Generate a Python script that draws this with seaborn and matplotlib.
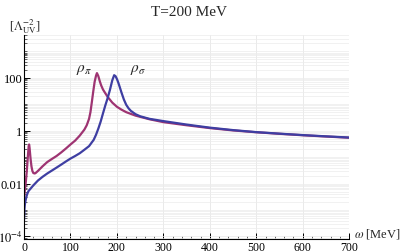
import pandas as pd
import matplotlib
matplotlib.use("Agg")
import matplotlib.pyplot as plt
import seaborn as sns
from matplotlib.ticker import LogLocator, MultipleLocator, NullFormatter

sns.set_theme(style="white")
plt.rcParams.update({
    "font.family": ["Liberation Serif", "DejaVu Serif"],
    "mathtext.fontset": "stix",
    "font.size": 9,
    "axes.linewidth": 0.8,
})

# spectral functions at T = 200 MeV
omega_pi = [0, 2, 4, 6, 8, 10, 11, 12, 14, 16, 18, 20, 23, 25, 30, 40, 50, 60, 70, 80,
            90, 100, 110, 120, 130, 135, 140, 143, 146, 149, 152, 155, 157, 160, 163,
            166, 170, 175, 180, 190, 200, 210, 220, 240, 270, 300, 350, 400, 450, 500,
            550, 600, 650, 700]
rho_pi = [0.0025, 0.006, 0.012, 0.03, 0.09, 0.26, 0.3, 0.22, 0.09, 0.045, 0.03, 0.025,
          0.024, 0.025, 0.03, 0.045, 0.065, 0.085, 0.11, 0.15, 0.21, 0.3, 0.42, 0.65,
          1.1, 1.6, 2.8, 5.0, 12, 30, 70, 120, 150, 115, 75, 52, 36, 26, 19, 11.5, 8,
          6.2, 5.0, 3.7, 2.7, 2.1, 1.6, 1.25, 1.02, 0.87, 0.76, 0.67, 0.6, 0.54]

omega_sigma = [0, 1, 2, 4, 6, 8, 10, 15, 20, 30, 40, 50, 60, 70, 80, 90, 100, 110, 120,
               130, 140, 150, 155, 160, 165, 170, 175, 180, 185, 190, 194, 197, 200, 203,
               206, 210, 215, 220, 225, 230, 240, 250, 270, 300, 350, 400, 450, 500, 550,
               600, 650, 700]
rho_sigma = [0.0004, 0.0011, 0.0017, 0.0026, 0.0036, 0.0045, 0.0053, 0.0067, 0.0085,
             0.013, 0.018, 0.024, 0.031, 0.04, 0.052, 0.068, 0.088, 0.11, 0.14, 0.19,
             0.26, 0.45, 0.7, 1.2, 2.2, 4.5, 9, 17, 35, 80, 125, 115, 90, 65, 45, 27, 15,
             9.5, 7.0, 5.6, 4.2, 3.5, 2.8, 2.3, 1.7, 1.3, 1.05, 0.88, 0.77, 0.68, 0.61,
             0.55]

curve_names = ["rho_pi", "rho_sigma"]
curve_colors = {"rho_pi": "#9e3472", "rho_sigma": "#3e3ea2"}

df = pd.concat([
    pd.DataFrame({"omega": omega_pi, "rho": rho_pi, "curve": "rho_pi"}),
    pd.DataFrame({"omega": omega_sigma, "rho": rho_sigma, "curve": "rho_sigma"}),
])

fig = plt.figure(figsize=(4.07, 2.53), dpi=100)
ax = fig.add_axes([0.059, 0.05, 0.799, 0.808])

sns.lineplot(data=df, x="omega", y="rho", hue="curve", hue_order=curve_names,
             palette=curve_colors, linewidth=1.6, legend=False, sort=False,
             estimator=None, ax=ax)

ax.set_yscale("log")
ax.set_xlim(0, 700)
ax.set_ylim(10 ** -4.11, 10 ** 3.62)

ax.set_yticks([1e-4, 1e-2, 1, 100])
ax.set_yticklabels([r"$10^{-4}$", "0.01", "1", "100"])
ax.get_yticklabels()[0].set_fontsize(8)
ax.yaxis.set_minor_locator(LogLocator(base=10, subs=range(1, 10), numticks=40))
ax.yaxis.set_minor_formatter(NullFormatter())
ax.xaxis.set_major_locator(MultipleLocator(100))
ax.xaxis.set_minor_locator(MultipleLocator(20))

ax.grid(True, which="major", axis="x", color="#e6e6e6", linewidth=0.6)
ax.grid(True, which="both", axis="y", color="#ececec", linewidth=0.5)

ax.tick_params(axis="both", which="major", direction="in", length=4, width=0.7,
               labelsize=9, colors="black")
ax.tick_params(axis="y", which="major", pad=1)
ax.tick_params(axis="x", which="major", pad=1, labelsize=8.5)
ax.tick_params(axis="both", which="minor", direction="in", length=2, width=0.5)
ax.tick_params(axis="x", which="both", bottom=True)
ax.tick_params(axis="y", which="both", left=True)

for side in ["top", "right"]:
    ax.spines[side].set_visible(False)
for side in ["left", "bottom"]:
    ax.spines[side].set_color("black")

ax.set_xlabel("")
ax.set_ylabel("")

ax.text(129, 220, r"$\rho_\pi$", fontsize=11, ha="center", va="center")
ax.text(245, 220, r"$\rho_\sigma$", fontsize=11, ha="center", va="center")
ax.text(1.015, 0.03, r"$\omega$ [MeV]", transform=ax.transAxes, fontsize=9,
        ha="left", va="center")
fig.text(0.022, 0.893, r"[$\Lambda_{\mathrm{UV}}^{-2}$]", fontsize=9,
         ha="left", va="center")
fig.text(0.465, 0.952, "T=200 MeV", fontsize=11, ha="center", va="center")

fig.savefig("out.png", dpi=100)
